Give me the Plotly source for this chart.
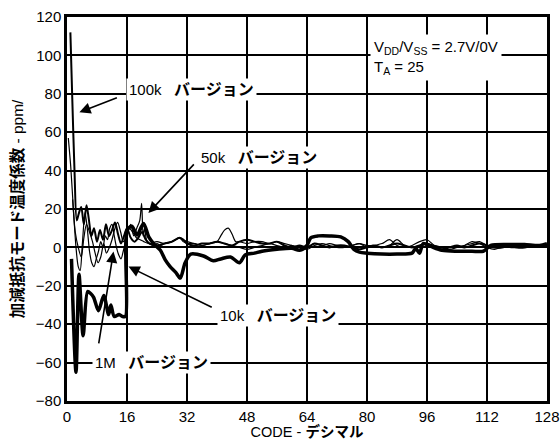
import plotly.graph_objects as go

# ---- data ----
code_100k = [0.9,1.4,2,2.6,3.2,3.8,4.5,5.2,5.8,6.5,7.2,8,8.8,9.6,10.4,11.2,12,12.8,13.6,14.4,15.2,16,17,18,19,20,21,22,24,26,28,30,31,32,34,36,38,40,42,44,46,48,50,52,54,56,58,60,62,64,66,68,70,72,74,76,78,80,82,84,86,88,90,92,94,96,98,100,102,104,106,108,110,112,114,116,118,120,122,124,126,128]
tc_100k = [112,78,40,14,18,21,12,22,15,6,10,3,9,4,12,6,9,13,7,2,6,10,5,3,5,8,4,2,1,2,3,5,4,2,1,2,2,3,2,1,3,4,3,2,2,3,1,0,1,0,2,1,0,1,1,0,-1,0,1,0,1,2,1,0,1,2,0,-1,0,1,0,1,2,1,0,0,1,0,0,1,1,1,1]

code_50k = [0.35,1,1.7,2.4,3,3.5,4.1,4.8,5.4,6,6.6,7.2,7.8,8.4,9,9.6,10.2,10.8,11.4,12,12.6,13.2,13.8,14.4,15,15.6,16.2,17,17.8,18.6,19.4,19.9,20.3,20.7,21.2,22,23,24,25,26,28,29,30,31,32,34,36,38,40,41,42,43,44,45,46,48,50,52,54,56,58,60,62,64,66,68,70,72,74,76,78,80,82,84,86,88,90,92,94,96,98,100,102,104,106,108,110,112,114,116,118,120,122,124,126,128]
tc_50k = [57,42,20,0,-10,-12,2,18,10,-2,-8,-10,-6,-2,3,0,6,4,10,12,6,0,-4,-6,-2,3,8,12,6,10,14,23,6,10,4,2,1,2,1,2,3,4,5,3,2,2,1,2,3,6,9,10,7,3,3,2,3,3,2,3,2,1,0,-1,1,2,1,0,0,1,2,1,1,0,1,4,1,0,1,2,1,0,-1,0,1,2,3,1,0,1,0,0,1,1,0,1,1]

code_1m = [1.5,2.2,3,3.8,4.5,5.2,6,6.8,7.5,8.3,9,9.8,10.5,11.3,12,12.8,13.5,14.3,15,15.8,16.5,17.5,18.5,19.5,20.5,22,24,26,28,30,32,34,36,38,40,42,44,46,48,50,52,54,56,58,60,62,64,66,68,70,72,74,76,78,80,82,84,86,88,90,92,94,96,98,100,102,104,106,108,110,112,114,116,118,120,122,124,126,128]
tc_1m = [25,8,0,-5,5,12,8,3,-3,-8,-5,2,-3,0,4,10,13,8,3,5,10,8,5,4,3,2,3,2,3,5,3,2,1,2,3,2,1,0,-1,0,1,2,1,0,1,-1,0,2,1,2,1,0,1,2,0,1,2,4,1,0,1,3,4,1,0,0,0,1,3,2,0,-1,0,0,1,1,1,0,0,1,2]

code_10k = [1.2,2.4,3.2,4.3,5.5,6.3,7.1,8.4,9.8,11.1,11.7,12.6,13.9,14.8,15.6,16,17.3,18.7,20.4,21.8,23.1,24.9,26.2,27.5,29,30.2,31.5,33,36.4,39,41,43.6,46,47.5,50,52,56,60,62,64,65,67,70,73,75,76.5,78,80,84,88,92,93,94,95,97,100,104,108,111,113,118,122,126,128]
tc_10k = [-6,-65,-14,-46,-23,-24,-26,-33,-25,-35,-30,-36,-35,-36,-36,9,11,6.5,12.5,5.5,2,-1.5,-6.5,-10,-13,-16,-8,-3.5,-4.5,-7,-6,-5,-8,-4,-3,-2,-1,-0.5,-1.5,1,5,6,6,5.5,3,-1,-2.5,-3,-3.5,-3.5,-3,-0.5,-3,2,0.5,-1.5,-2,-2,-2,1,1.5,1.5,1,2]

x_ticks = [0, 16, 32, 48, 64, 80, 96, 112, 128]
y_ticks = [-80, -60, -40, -20, 0, 20, 40, 60, 80, 100, 120]

FONT = "Liberation Sans, Arial, Noto Sans CJK JP, sans-serif"

fig = go.Figure()
fig.add_trace(go.Scatter(x=code_50k, y=tc_50k, mode="lines",
                         line=dict(color="black", width=1.2, shape="spline", smoothing=0.8), name="50k"))
fig.add_trace(go.Scatter(x=code_1m, y=tc_1m, mode="lines",
                         line=dict(color="black", width=1.2, shape="spline", smoothing=0.8), name="1M"))
fig.add_trace(go.Scatter(x=code_100k, y=tc_100k, mode="lines",
                         line=dict(color="black", width=2, shape="spline", smoothing=0.8), name="100k"))
fig.add_trace(go.Scatter(x=code_10k, y=tc_10k, mode="lines",
                         line=dict(color="black", width=3.5, shape="spline", smoothing=0.8), name="10k"))

NB = "\u00a0"
JP = '<b><span style="font-size:16px">バージョン</span></b>'
labels = [
    dict(x=15.6, y=82, text="100k" + NB * 3 + JP),
    dict(x=35.0, y=47, text="50k" + NB * 3 + JP),
    dict(x=40.1, y=-35.7, text="10k" + NB * 3 + JP),
    dict(x=6.75, y=-59.7, text="1M" + NB * 3 + JP),
]
for a in labels:
    fig.add_annotation(x=a["x"], y=a["y"], text=a["text"], showarrow=False,
                       xanchor="left", yanchor="middle", bgcolor="white",
                       borderpad=2, font=dict(size=15, color="black", family=FONT))

fig.add_annotation(x=80.9, y=99, text="V<sub>DD</sub>/V<sub>SS</sub> = 2.7V/0V<br>T<sub>A</sub> = 25",
                   showarrow=False, xanchor="left", yanchor="middle", align="left",
                   bgcolor="white", borderpad=3, font=dict(size=15, color="black", family=FONT))

arrows = [
    ((13.7, 78.3), (3.3, 70.4)),
    ((34.2, 44.0), (21.7, 17.9)),
    ((39.0, -31.6), (16.4, -10.0)),
    ((8.4, -50.8), (12.4, -2.2)),
]
for (tx, ty), (hx, hy) in arrows:
    fig.add_annotation(x=hx, y=hy, ax=tx, ay=ty, axref="x", ayref="y", xref="x", yref="y",
                       text="", showarrow=True, arrowhead=2, arrowsize=1.4,
                       arrowwidth=1.6, arrowcolor="black")

fig.update_layout(
    width=560, height=440,
    margin=dict(l=67, r=13, t=17, b=39),
    paper_bgcolor="white", plot_bgcolor="white",
    showlegend=False,
    font=dict(family=FONT, size=15, color="black"),
)
fig.update_xaxes(range=[0, 128], tickvals=x_ticks, ticktext=[str(v) for v in x_ticks],
                 showgrid=True, gridcolor="black", gridwidth=1.5, zeroline=False,
                 showline=True, linecolor="black", linewidth=2.5, mirror=True,
                 ticks="", tickfont=dict(size=15, family=FONT), automargin=False,
                 title=dict(text="CODE - <b>デシマル</b>", font=dict(size=14.5, family=FONT), standoff=2))
fig.update_yaxes(range=[-80, 120], tickvals=y_ticks,
                 showgrid=True, gridcolor="black", gridwidth=1.5, zeroline=False,
                 showline=True, linecolor="black", linewidth=2.5, mirror=True,
                 ticks="", tickfont=dict(size=15, family=FONT), automargin=False,
                 title=dict(text="<b>加減抵抗モード温度係数</b> - ppm/", font=dict(size=15.5, family=FONT), standoff=9))

fig.write_html("out.html")
